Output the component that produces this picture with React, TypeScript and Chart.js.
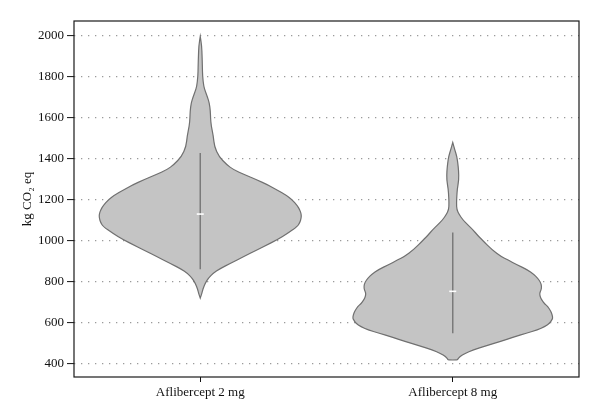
import { useEffect, useRef } from "react";
import { Chart, registerables } from "chart.js";

Chart.register(...registerables);

const categories = ["Aflibercept 2 mg", "Aflibercept 8 mg"];
const yTicks = [400, 600, 800, 1000, 1200, 1400, 1600, 1800, 2000];
const yTitle = "kg CO\u2082 eq";

// Violin outlines: value (kg CO2 eq) and relative density (1 = widest)
const violin1Values = [1995, 1950, 1900, 1850, 1800, 1750, 1727, 1700, 1670, 1630, 1597, 1560, 1507, 1458, 1409, 1370, 1344, 1320, 1295, 1270, 1246, 1220, 1198, 1170, 1149, 1128, 1108, 1085, 1067, 1035, 1002, 975, 953, 920, 888, 860, 840, 815, 791, 760, 740, 718];
const violin1Density = [0, 0.014, 0.018, 0.021, 0.023, 0.035, 0.05, 0.07, 0.09, 0.1, 0.102, 0.108, 0.13, 0.14, 0.185, 0.26, 0.33, 0.44, 0.56, 0.67, 0.76, 0.85, 0.91, 0.96, 0.985, 1.0, 1.0, 0.985, 0.96, 0.87, 0.76, 0.65, 0.56, 0.43, 0.3, 0.19, 0.13, 0.08, 0.05, 0.025, 0.015, 0];

const violin2Values = [1477, 1442, 1410, 1377, 1340, 1295, 1250, 1214, 1180, 1149, 1125, 1100, 1075, 1051, 1025, 1002, 953, 920, 904, 880, 856, 835, 815, 795, 774, 758, 742, 725, 710, 690, 677, 655, 636, 620, 611, 595, 579, 563, 547, 527, 506, 485, 465, 448, 432, 420, 416];
const violin2Density = [0, 0.02, 0.04, 0.05, 0.058, 0.06, 0.045, 0.04, 0.037, 0.04, 0.065, 0.1, 0.15, 0.2, 0.245, 0.29, 0.39, 0.48, 0.545, 0.64, 0.74, 0.8, 0.84, 0.87, 0.88, 0.875, 0.86, 0.865, 0.88, 0.91, 0.94, 0.97, 0.985, 0.99, 0.98, 0.96, 0.91, 0.84, 0.73, 0.6, 0.47, 0.33, 0.2, 0.12, 0.07, 0.05, 0.045];

const whiskerLow = [859, 547];
const whiskerHigh = [1426, 1038];
const medians = [1128, 751];

const violins = [
  { values: violin1Values, density: violin1Density },
  { values: violin2Values, density: violin2Density },
];

const MAX_HALF = 0.4; // in category units
const FONT = "'Liberation Serif', 'DejaVu Serif', serif";

const violinPlugin = {
  id: "violins",
  beforeDatasetsDraw(chart: any) {
    const { ctx, chartArea, scales } = chart;
    const xs = scales.x;
    const ys = scales.y;
    ctx.save();
    ctx.setLineDash([]);
    ctx.beginPath();
    ctx.rect(chartArea.left, chartArea.top, chartArea.right - chartArea.left, chartArea.bottom - chartArea.top);
    ctx.clip();
    violins.forEach((v, i) => {
      const c = i + 1;
      const pts: [number, number][] = [];
      for (let k = 0; k < v.values.length; k++) {
        pts.push([xs.getPixelForValue(c + v.density[k] * MAX_HALF), ys.getPixelForValue(v.values[k])]);
      }
      for (let k = v.values.length - 1; k >= 0; k--) {
        pts.push([xs.getPixelForValue(c - v.density[k] * MAX_HALF), ys.getPixelForValue(v.values[k])]);
      }
      ctx.beginPath();
      const n = pts.length;
      const mid = (a: [number, number], b: [number, number]) => [(a[0] + b[0]) / 2, (a[1] + b[1]) / 2];
      const m0 = mid(pts[n - 1], pts[0]);
      ctx.moveTo(m0[0], m0[1]);
      for (let k = 0; k < n; k++) {
        const p = pts[k];
        const q = pts[(k + 1) % n];
        const m = mid(p, q);
        ctx.quadraticCurveTo(p[0], p[1], m[0], m[1]);
      }
      ctx.closePath();
      ctx.fillStyle = "#c4c4c4";
      ctx.fill();
      ctx.lineWidth = 1.2;
      ctx.strokeStyle = "#707070";
      ctx.stroke();
    });
    ctx.restore();
  },
  afterDatasetsDraw(chart: any) {
    const { ctx, scales } = chart;
    ctx.save();
    ctx.setLineDash([]);
    ctx.strokeStyle = "#ffffff";
    ctx.lineWidth = 1.6;
    medians.forEach((m, i) => {
      const x = scales.x.getPixelForValue(i + 1);
      const y = scales.y.getPixelForValue(m);
      ctx.beginPath();
      ctx.moveTo(x - 3.5, y);
      ctx.lineTo(x + 3.5, y);
      ctx.stroke();
    });
    ctx.restore();
  },
  afterDraw(chart: any) {
    const { ctx, chartArea } = chart;
    ctx.save();
    ctx.setLineDash([]);
    ctx.strokeStyle = "#1a1a1a";
    ctx.lineWidth = 1.2;
    ctx.strokeRect(chartArea.left, chartArea.top, chartArea.right - chartArea.left, chartArea.bottom - chartArea.top);
    ctx.restore();
  },
};

export default function App() {
  const ref = useRef<HTMLCanvasElement>(null);
  useEffect(() => {
    if (!ref.current) return;
    const whiskerSets = categories.map((_, i) => ({
      label: "whisker" + i,
      data: [
        { x: i + 1, y: whiskerLow[i] },
        { x: i + 1, y: whiskerHigh[i] },
      ],
      showLine: true,
      borderColor: "#7a7a7a",
      borderWidth: 1.5,
      borderDash: [],
      pointRadius: 0,
    }));
    const chart = new Chart(ref.current, {
      type: "scatter",
      data: { datasets: whiskerSets },
      options: {
        responsive: false,
        animation: false,
        events: [],
        layout: { padding: { top: 21, right: 21, left: 0, bottom: 0 } },
        plugins: { legend: { display: false }, tooltip: { enabled: false } },
        scales: {
          x: {
            type: "linear",
            min: 0.5,
            max: 2.5,
            afterBuildTicks: (s: any) => {
              s.ticks = categories.map((_, i) => ({ value: i + 1 }));
            },
            afterFit: (s: any) => {
              s.height = 43;
            },
            ticks: {
              callback: (v: any) => categories[Number(v) - 1],
              color: "#111",
              font: { family: FONT, size: 13 },
              padding: 3,
              maxRotation: 0,
            },
            grid: { drawOnChartArea: false, tickLength: 5, tickColor: "#111", tickWidth: 1 },
            border: { display: false },
          },
          y: {
            type: "linear",
            min: 333,
            max: 2070,
            afterBuildTicks: (s: any) => {
              s.ticks = yTicks.map((v) => ({ value: v }));
            },
            afterFit: (s: any) => {
              s.width = 74;
            },
            ticks: {
              callback: (v: any) => String(v),
              color: "#111",
              font: { family: FONT, size: 13 },
              padding: 3,
            },
            grid: {
              color: "#9a9a9a",
              lineWidth: 1.2,
              tickLength: 7,
              tickColor: "#111",
              tickWidth: 1,
              tickBorderDash: [],
            },
            border: { display: false, dash: [1.3, 5.7] },
            title: {
              display: true,
              text: yTitle,
              color: "#111",
              font: { family: FONT, size: 13 },
              padding: { top: 20, bottom: 0 },
            },
          },
        },
      },
      plugins: [violinPlugin],
    } as any);
    return () => chart.destroy();
  }, []);
  return (
    <div style={{ position: "fixed", left: 0, top: 0, width: 600, height: 420, background: "#fff" }}>
      <canvas ref={ref} width={600} height={420} style={{ display: "block" }} />
    </div>
  );
}
